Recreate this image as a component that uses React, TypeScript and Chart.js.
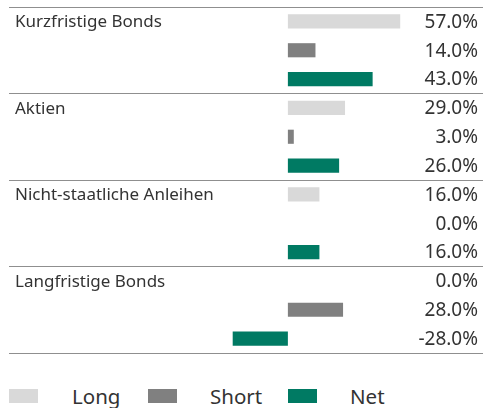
import React, { useEffect, useRef } from "react";
import { Chart, registerables } from "chart.js";

Chart.register(...registerables);

const categories = ["Kurzfristige Bonds", "Aktien", "Nicht-staatliche Anleihen", "Langfristige Bonds"];
const seriesNames = ["Long", "Short", "Net"];
const longValues = [57, 29, 16, 0];
const shortValues = [14, 3, 0, 28];
const netValues = [43, 26, 16, -28];
const colors = ["#d9d9d9", "#808080", "#007a63"];

const FONT = "'Noto Sans', sans-serif";
const TEXT = "#333333";

const labelPlugin = {
  id: "rowLabels",
  afterDatasetsDraw(chart: any) {
    const ctx = chart.ctx;
    ctx.save();
    ctx.fillStyle = TEXT;
    ctx.textBaseline = "middle";
    chart.data.datasets.forEach((ds: any, i: number) => {
      const meta = chart.getDatasetMeta(i);
      meta.data.forEach((el: any, j: number) => {
        const v = ds.data[j] as number;
        ctx.font = `19px ${FONT}`;
        ctx.textAlign = "right";
        ctx.fillText(v.toFixed(1) + "%", 478, el.y + 1);
        if (i === 0) {
          ctx.font = `17px ${FONT}`;
          ctx.textAlign = "left";
          ctx.fillText(categories[j], 15, el.y + 1);
        }
      });
    });
    ctx.restore();
  },
};

export default function App() {
  const ref = useRef<HTMLCanvasElement>(null);
  useEffect(() => {
    const chart = new Chart(ref.current!, {
      type: "bar",
      data: {
        labels: categories,
        datasets: [longValues, shortValues, netValues].map((d, i) => ({
          label: seriesNames[i],
          data: d,
          backgroundColor: colors[i],
          borderWidth: 0,
          categoryPercentage: 1,
          barPercentage: 0.49,
        })),
      },
      options: {
        indexAxis: "y",
        responsive: false,
        maintainAspectRatio: false,
        animation: false,
        layout: { padding: { left: 9, right: 0, top: 7, bottom: 7 } },
        plugins: { legend: { display: false }, tooltip: { enabled: false } },
        scales: {
          x: { display: false, min: -141.5, max: 99 },
          y: {
            display: true,
            ticks: { display: false },
            border: { display: false },
            grid: { color: "#8f8f8f", lineWidth: 1, drawTicks: false, offset: true },
          },
        },
      },
      plugins: [labelPlugin],
    } as any);
    return () => chart.destroy();
  }, []);

  const legendX = [9, 148, 288];
  const textX = [72, 210, 350];
  return (
    <div style={{ position: "absolute", left: 0, top: 0, width: 483, height: 408, overflow: "hidden", background: "#fff", fontFamily: FONT }}>
      <canvas ref={ref} width={483} height={360} style={{ position: "absolute", left: 0, top: 0 }} />
      {seriesNames.map((n, i) => (
        <React.Fragment key={n}>
          <div style={{ position: "absolute", left: legendX[i], top: 389, width: 29, height: 14, background: colors[i] }} />
          <span style={{ position: "absolute", left: textX[i], top: 386, fontSize: 20.5, lineHeight: "21px", color: TEXT, whiteSpace: "nowrap" }}>{n}</span>
        </React.Fragment>
      ))}
    </div>
  );
}
